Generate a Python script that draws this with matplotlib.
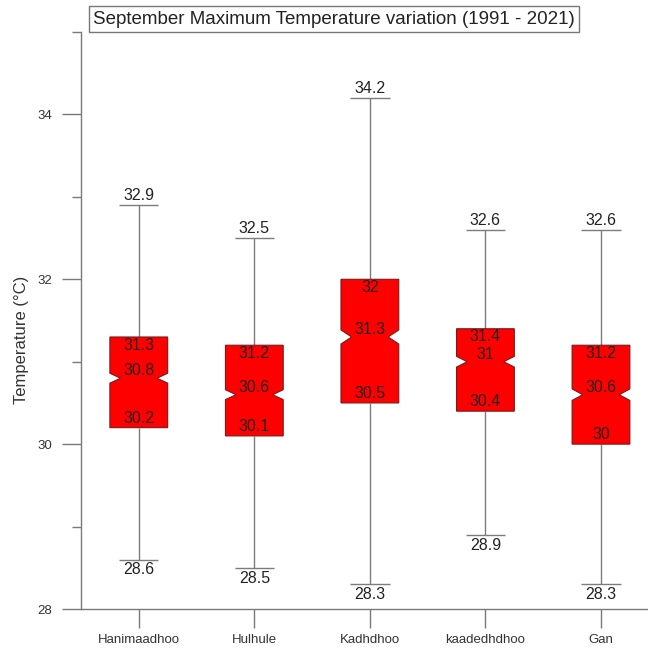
import numpy as np
import matplotlib.pyplot as plt
from matplotlib.patches import Polygon

plt.rcParams['font.family'] = ['Liberation Sans', 'DejaVu Sans']

# =============================================================================
# DATA
# =============================================================================
stations = ["Hanimaadhoo", "Hulhule", "Kadhdhoo", "kaadedhdhoo", "Gan"]
whisk_lo = [28.6, 28.5, 28.3, 28.9, 28.3]
q1 = [30.2, 30.1, 30.5, 30.4, 30.0]
median = [30.8, 30.6, 31.3, 31.0, 30.6]
q3 = [31.3, 31.2, 32.0, 31.4, 31.2]
whisk_hi = [32.9, 32.5, 34.2, 32.6, 32.6]
notch_half = [0.06, 0.06, 0.085, 0.065, 0.07]   # notch half-height, estimated
# =============================================================================

BOX_HALF = 0.25
NOTCH_DEPTH = 0.092
CAP_HALF = 0.17
TXT = "#222222"
AXC = "#7a7a7a"
WHC = "#7c7c7c"


def fmt(v):
    return f"{v:g}"


fig = plt.figure(figsize=(6.48, 6.57), dpi=100)
ax = fig.add_axes([81 / 648, 48 / 657, 1 - 81 / 648, (609 - 32) / 657])

positions = np.arange(1, len(stations) + 1)

for x, lo, a, m, b, hi, nh in zip(positions, whisk_lo, q1, median, q3, whisk_hi, notch_half):
    # whiskers + caps
    ax.vlines(x, b, hi, color=WHC, lw=1.0, zorder=1)
    ax.vlines(x, lo, a, color=WHC, lw=1.0, zorder=1)
    ax.hlines([lo, hi], x - CAP_HALF, x + CAP_HALF, color=WHC, lw=1.0, zorder=1)

    l, r = x - BOX_HALF, x + BOX_HALF
    verts = [(l, a), (r, a), (r, m - nh), (r - NOTCH_DEPTH, m), (r, m + nh),
             (r, b), (l, b), (l, m + nh), (l + NOTCH_DEPTH, m), (l, m - nh)]
    ax.add_patch(Polygon(verts, closed=True, facecolor="#ff0000",
                         edgecolor="#7a1a1a", lw=0.8, zorder=2))

    # value labels
    kw = dict(textcoords="offset points", ha="center", fontsize=11.5, color=TXT, zorder=3)
    ax.annotate(fmt(hi), (x, hi), xytext=(0, 1.5), va="bottom", **kw)
    ax.annotate(fmt(lo), (x, lo), xytext=(0, -2), va="top", **kw)
    ax.annotate(fmt(b), (x, b), xytext=(0, -0.5), va="top", **kw)
    ax.annotate(fmt(m), (x, m), xytext=(0, 0), va="bottom", **kw)
    ax.annotate(fmt(a), (x, a), xytext=(0, 1.5), va="bottom", **kw)

ax.set_xlim(0.5, 1 + (648 - 139) / 115.5)
ax.set_ylim(28, 35)

for side in ["top", "right"]:
    ax.spines[side].set_visible(False)
for side in ["left", "bottom"]:
    ax.spines[side].set_color(AXC)
    ax.spines[side].set_linewidth(1.0)

ax.set_yticks([28, 30, 32, 34])
ax.set_yticks([29, 31, 33, 35], minor=True)
ax.tick_params(axis="y", which="major", length=13.5, width=1.0, color=AXC,
               labelsize=9.5, labelcolor="#333333", pad=7)
ax.tick_params(axis="y", which="minor", length=6.5, width=1.0, color=AXC)

ax.set_xticks(positions)
ax.set_xticklabels(stations)
ax.tick_params(axis="x", length=14, width=1.0, color=AXC,
               labelsize=9.5, labelcolor="#333333", pad=4)

fig.text(22 / 648, 1 - 340 / 657, "Temperature (°C)", rotation=90,
         ha="center", va="center", fontsize=12, color="#333333")

fig.text(334 / 648, 1 - 19 / 657,
         "September Maximum Temperature variation (1991 - 2021)",
         ha="center", va="center", fontsize=13.5, color="#222222",
         bbox=dict(boxstyle="square,pad=0.22", facecolor="white",
                   edgecolor="#777777", lw=1.0))

fig.savefig("out.png", dpi=100)
